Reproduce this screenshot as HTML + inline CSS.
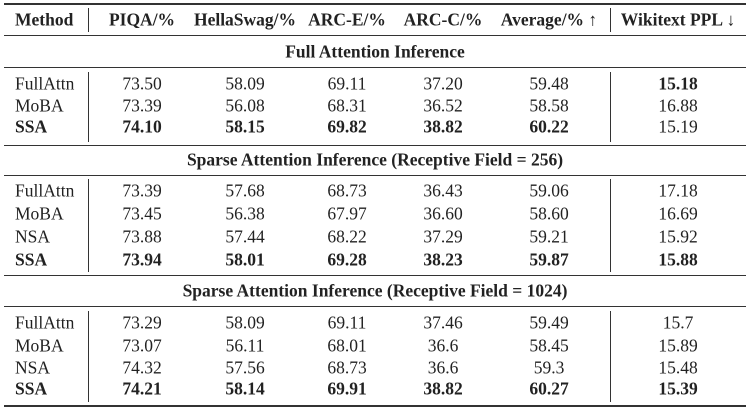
<!DOCTYPE html>
<html><head><style>
body{margin:0;width:750px;height:412px;background:#fff;position:relative;overflow:hidden;font-family:"Liberation Serif",serif;font-size:17.5px;color:#222}
.t{position:absolute;transform:translate(-50%,-50%);white-space:nowrap}
.l{position:absolute;transform:translateY(-50%);white-space:nowrap}
.b{font-weight:bold}
.h{position:absolute;left:4px;width:742px;background:#333}
.v{position:absolute;width:1px;background:#333}
</style></head><body>
<div class="h" style="top:3px;height:2px"></div>
<div class="h" style="top:35px;height:1px"></div>
<div class="h" style="top:67px;height:1px"></div>
<div class="h" style="top:145px;height:1px"></div>
<div class="h" style="top:175px;height:1px"></div>
<div class="h" style="top:275px;height:1px"></div>
<div class="h" style="top:306px;height:1px"></div>
<div class="h" style="top:405px;height:2px"></div>
<div class="v" style="left:88px;top:8px;height:24px"></div>
<div class="v" style="left:610px;top:8px;height:24px"></div>
<div class="v" style="left:88px;top:72px;height:70px"></div>
<div class="v" style="left:610px;top:72px;height:70px"></div>
<div class="v" style="left:88px;top:179px;height:93px"></div>
<div class="v" style="left:610px;top:179px;height:93px"></div>
<div class="v" style="left:88px;top:311px;height:91px"></div>
<div class="v" style="left:610px;top:311px;height:91px"></div>
<div id="c"></div>
<script>
var cols=[142,245,347,443,549,678];
var H=["PIQA/%","HellaSwag/%","ARC-E/%","ARC-C/%","Average/% ↑","Wikitext PPL ↓"];
var s='<div class="l b" style="left:15px;top:20px">Method</div>';
H.forEach(function(h,i){s+='<div class="t b" style="left:'+cols[i]+'px;top:20px">'+h+'</div>'});
function sec(y,t){s+='<div class="t b" style="left:375px;top:'+y+'px">'+t+'</div>'}
function r(y,n,v,bold,wb){s+='<div class="l'+(bold?' b':'')+'" style="left:15px;top:'+y+'px">'+n+'</div>';
v.forEach(function(x,i){var b=i<5?bold:wb;s+='<div class="t'+(b?' b':'')+'" style="left:'+cols[i]+'px;top:'+y+'px">'+x+'</div>'})}
sec(52,"Full Attention Inference");
r(84,"FullAttn",["73.50","58.09","69.11","37.20","59.48","15.18"],0,1);
r(106,"MoBA",["73.39","56.08","68.31","36.52","58.58","16.88"],0,0);
r(127,"SSA",["74.10","58.15","69.82","38.82","60.22","15.19"],1,0);
sec(160,"Sparse Attention Inference (Receptive Field = 256)");
r(191,"FullAttn",["73.39","57.68","68.73","36.43","59.06","17.18"],0,0);
r(214,"MoBA",["73.45","56.38","67.97","36.60","58.60","16.69"],0,0);
r(237,"NSA",["73.88","57.44","68.22","37.29","59.21","15.92"],0,0);
r(260,"SSA",["73.94","58.01","69.28","38.23","59.87","15.88"],1,1);
sec(291,"Sparse Attention Inference (Receptive Field = 1024)");
r(323,"FullAttn",["73.29","58.09","69.11","37.46","59.49","15.7"],0,0);
r(346,"MoBA",["73.07","56.11","68.01","36.6","58.45","15.89"],0,0);
r(368,"NSA",["74.32","57.56","68.73","36.6","59.3","15.48"],0,0);
r(389,"SSA",["74.21","58.14","69.91","38.82","60.27","15.39"],1,1);
document.getElementById("c").innerHTML=s;
</script>
</body></html>
